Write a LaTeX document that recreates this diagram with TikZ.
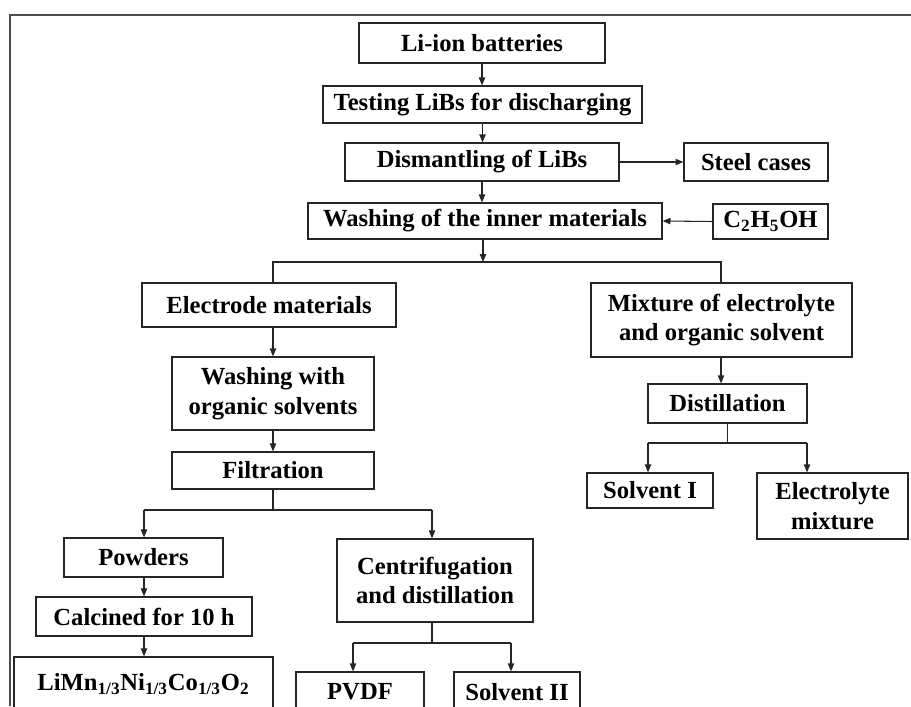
\documentclass[tikz,border=0pt]{standalone}
\usepackage{fontspec}
\setmainfont{Liberation Serif}
\usepackage{tikz}
\usetikzlibrary{arrows.meta,positioning,calc}

\begin{document}
\begin{tikzpicture}[x=0.02cm, y=-0.02cm, >={Triangle[length=4.5pt,width=3.6pt]},
  box/.style={draw=black!85, line width=0.7pt, inner sep=0pt, align=center,
    font=\fontsize{14}{17}\selectfont\bfseries},
  flow/.style={draw=black!85, line width=0.6pt},
  arr/.style={flow, ->}]
  \path[use as bounding box, clip] (0,0) rectangle (911,706);
  \fill[white] (0,0) rectangle (911,706);
  \draw[line width=1.5pt, black!70] (10,706) -- (10,15) -- (911,15);

  % main line
  \node[box, minimum width=4.92cm, minimum height=0.8cm]  (libs)  at (482,43)    {Li-ion batteries};
  \node[box, minimum width=6.38cm, minimum height=0.74cm] (test)  at (482.5,104.5) {Testing LiBs for discharging};
  \node[box, minimum width=5.48cm, minimum height=0.76cm] (dism)  at (482,162)   {Dismantling of LiBs};
  \node[box, minimum width=2.88cm, minimum height=0.76cm] (steel) at (756,162)   {Steel cases};
  \node[box, minimum width=7.08cm, minimum height=0.72cm] (wash)  at (485,221)   {Washing of the inner materials};
  \node[box, minimum width=2.3cm,  minimum height=0.7cm]  (etoh)  at (770.5,221.5) {C\textsubscript{2}H\textsubscript{5}OH};

  % electrode branch
  \node[box, minimum width=5.08cm, minimum height=0.88cm] (elec)  at (269,305)   {Electrode materials};
  \node[box, minimum width=4.04cm, minimum height=1.46cm] (wsol)  at (273,393.5) {Washing with\\organic solvents};
  \node[box, minimum width=4.04cm, minimum height=0.74cm] (filt)  at (273,470.5) {Filtration};
  \node[box, minimum width=3.18cm, minimum height=0.78cm] (powd)  at (143.5,557.5) {Powders};
  \node[box, minimum width=4.32cm, minimum height=0.78cm] (calc)  at (144,616.5) {Calcined for 10 h};
  \node[box, minimum width=5.18cm, minimum height=1.08cm] (limn)  at (143.5,684) {LiMn\textsubscript{1/3}Ni\textsubscript{1/3}Co\textsubscript{1/3}O\textsubscript{2}};
  \node[box, minimum width=3.92cm, minimum height=1.66cm] (centr) at (435,580.5) {Centrifugation\\and distillation};
  \node[box, minimum width=2.56cm, minimum height=0.8cm]  (pvdf)  at (360,692)   {PVDF};
  \node[box, minimum width=2.52cm, minimum height=0.8cm]  (solv2) at (517,692)   {Solvent II};

  % electrolyte branch
  \node[box, minimum width=5.22cm, minimum height=1.48cm] (mix)   at (721.5,320) {Mixture of electrolyte\\and organic solvent};
  \node[box, minimum width=3.18cm, minimum height=0.78cm] (dist)  at (727.5,403.5) {Distillation};
  \node[box, minimum width=2.52cm, minimum height=0.7cm]  (solv1) at (650,490.5) {Solvent I};
  \node[box, minimum width=3.02cm, minimum height=1.32cm] (elmix) at (832.5,506) {Electrolyte\\mixture};

  \coordinate (split) at (483,262);
  \coordinate (sL) at (273,262);
  \coordinate (sR) at (721,262);
  \coordinate (fL) at (144,510);
  \coordinate (fR) at (432,510);
  \coordinate (cM) at (432,643);
  \coordinate (cL) at (353,643);
  \coordinate (cR) at (511,643);
  \coordinate (dL) at (648,443);
  \coordinate (dR) at (807,443);

  % branch lines
  \draw[flow] (sL |- elec.north) -- (sL) -- (sR) -- (sR |- mix.north);
  \draw[flow] (filt.south) -- (filt.south |- fL);
  \draw[flow] (fL) -- (fR);
  \draw[flow] (cM |- centr.south) -- (cM);
  \draw[flow] (cL) -- (cR);
  \draw[flow] (dist.south) -- (dist.south |- dL);
  \draw[flow] (dL) -- (dR);

  \path[every edge/.style={arr}]
        (libs.south) edge (libs.south |- test.north)
        (test.south) edge (test.south |- dism.north)
        (dism.south) edge (dism.south |- wash.north)
        (dism.east) edge (steel.west)
        (etoh.west) edge (wash.east)
        (split |- wash.south) edge (split)
        (elec.south -| wsol) edge (wsol.north)
        (wsol.south) edge (filt.north)
        (fL) edge (fL |- powd.north)
        (fR) edge (fR |- centr.north)
        (fL |- powd.south) edge (fL |- calc.north)
        (fL |- calc.south) edge (fL |- limn.north)
        (cL) edge (cL |- pvdf.north)
        (cR) edge (cR |- solv2.north)
        (sR |- mix.south) edge (sR |- dist.north)
        (dL) edge (dL |- solv1.north)
        (dR) edge (dR |- elmix.north)
        ;
\end{tikzpicture}
\end{document}
